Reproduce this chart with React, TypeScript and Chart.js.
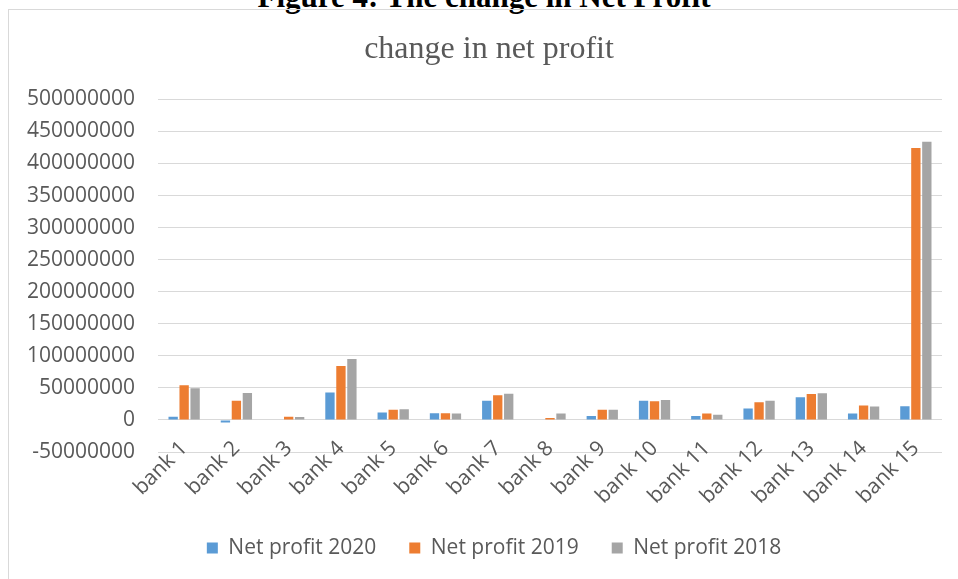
import React, { useEffect, useRef } from "react";
import { Chart, registerables } from "chart.js";

Chart.register(...registerables);

const categories = [
  "bank 1", "bank 2", "bank 3", "bank 4", "bank 5", "bank 6", "bank 7", "bank 8",
  "bank 9", "bank 10", "bank 11", "bank 12", "bank 13", "bank 14", "bank 15",
];

const netProfit2020 = [
  5000000, -4000000, 0, 43000000, 11500000, 10500000, 30000000, 0,
  6000000, 30000000, 6000000, 18000000, 35500000, 10000000, 21500000,
];
const netProfit2019 = [
  54000000, 30000000, 5000000, 84000000, 16000000, 10500000, 38500000, 3000000,
  16000000, 29000000, 10000000, 27500000, 40500000, 22500000, 424000000,
];
const netProfit2018 = [
  49500000, 42000000, 4500000, 95000000, 16500000, 10000000, 41000000, 10000000,
  16000000, 31000000, 8000000, 30000000, 41500000, 21000000, 434000000,
];

const seriesLabels = ["Net profit 2020", "Net profit 2019", "Net profit 2018"];
const seriesColors = ["#5B9BD5", "#ED7D31", "#A5A5A5"];

const yMin = -50000000;
const yMax = 500000000;
const yStep = 50000000;

const chartTitle = "change in net profit";
const figureCaption = "Figure 4: The change in Net Profit";

const textColor = "#595959";
const gridColor = "#D9D9D9";
const sansFont = "'Open Sans', 'Liberation Sans', sans-serif";

// Draws the rotated category labels at the x scale's tick positions
// (Excel places them overlapping the bottom of the plot area).
const xLabelPlugin = {
  id: "xLabelsRotated",
  afterDraw(chart: any) {
    const scale = chart.scales.x;
    const ctx = chart.ctx;
    ctx.save();
    ctx.font = `21px ${sansFont}`;
    ctx.fillStyle = textColor;
    ctx.textAlign = "right";
    ctx.textBaseline = "middle";
    scale.ticks.forEach((t: any, i: number) => {
      const x = scale.getPixelForTick(i);
      ctx.save();
      ctx.translate(x, scale.top - 7);
      ctx.rotate(-Math.PI / 4);
      ctx.fillText(String(scale.getLabelForValue(t.value)), 0, 0);
      ctx.restore();
    });
    ctx.restore();
  },
};

// Shift the centred title and legend slightly right, as in the reference.
const shiftPlugin = {
  id: "shiftBlocks",
  afterLayout(chart: any) {
    if (chart.legend) {
      chart.legend.left += 10;
      chart.legend.right += 10;
    }
    if (chart.titleBlock) {
      chart.titleBlock.left += 5;
      chart.titleBlock.right += 5;
    }
  },
};

export default function App() {
  const canvasRef = useRef<HTMLCanvasElement | null>(null);

  useEffect(() => {
    const canvas = canvasRef.current;
    if (!canvas) return;
    const values = [netProfit2020, netProfit2019, netProfit2018];
    const chart = new Chart(canvas, {
      type: "bar",
      data: {
        labels: categories,
        datasets: seriesLabels.map((label, i) => ({
          label,
          data: values[i],
          backgroundColor: seriesColors[i],
          borderWidth: 0,
          categoryPercentage: 0.63,
          barPercentage: 0.85,
        })),
      },
      plugins: [xLabelPlugin, shiftPlugin],
      options: {
        animation: false,
        responsive: false,
        devicePixelRatio: 1,
        layout: { padding: { top: 10, left: 26, right: 16, bottom: 10.5 } },
        plugins: {
          tooltip: { enabled: false },
          title: {
            display: true,
            text: chartTitle,
            color: textColor,
            font: { family: "'Liberation Serif', 'Times New Roman', serif", size: 32, weight: "normal" },
            padding: { top: 20, bottom: 31 },
          },
          legend: {
            display: true,
            position: "bottom",
            labels: {
              color: textColor,
              font: { family: sansFont, size: 21 },
              boxWidth: 11,
              boxHeight: 11,
              padding: 33,
            },
          },
        },
        scales: {
          x: {
            grid: { display: false, drawTicks: false },
            border: { display: false },
            ticks: { display: false, autoSkip: false },
            afterFit: (s: any) => {
              s.height = 52.5;
              s.paddingLeft = 0;
              s.paddingRight = 0;
            },
          },
          y: {
            min: yMin,
            max: yMax,
            grid: { color: gridColor, lineWidth: 1, drawTicks: false },
            border: { display: false },
            ticks: {
              stepSize: yStep,
              color: textColor,
              font: { family: sansFont, size: 21 },
              padding: 23,
              callback: (v: any) => String(v),
            },
            afterFit: (s: any) => {
              s.width = 132;
            },
          },
        },
      },
    });
    return () => chart.destroy();
  }, []);

  return (
    <div
      style={{
        position: "absolute",
        left: 0,
        top: 0,
        width: 958,
        height: 579,
        overflow: "hidden",
        background: "#ffffff",
      }}
    >
      <div
        style={{
          position: "absolute",
          left: 0,
          top: -19,
          width: 968,
          textAlign: "center",
          fontFamily: "'Liberation Serif', 'Times New Roman', serif",
          fontWeight: "bold",
          fontSize: 31,
          lineHeight: "31px",
          color: "#000000",
          whiteSpace: "nowrap",
        }}
      >
        {figureCaption}
      </div>
      <div
        style={{
          position: "absolute",
          left: 8,
          top: 9,
          width: 960,
          height: 580,
          borderTop: "1px solid #D9D9D9",
          borderLeft: "1px solid #D9D9D9",
        }}
      />
      <canvas
        ref={canvasRef}
        width={958}
        height={579}
        style={{ position: "absolute", left: 0, top: 0, width: 958, height: 579 }}
      />
    </div>
  );
}
